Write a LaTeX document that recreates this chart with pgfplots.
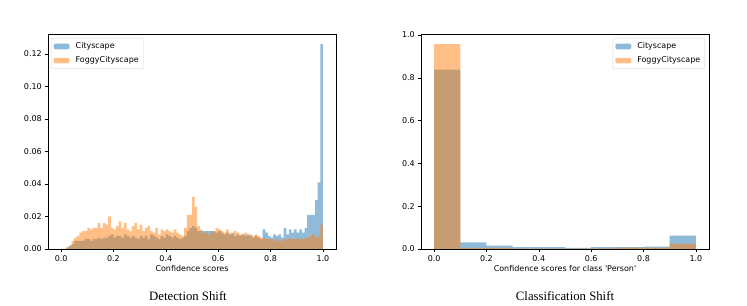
\documentclass[border=0pt]{standalone}
\usepackage{fontspec}
\setmainfont{DejaVu Sans}
\newfontfamily\capfont{Liberation Serif}
\usepackage{pgfplots}
\usepackage{pgfplotstable}
\pgfplotsset{compat=1.18}
\definecolor{cA}{HTML}{1F77B4}
\definecolor{cB}{HTML}{FF7F0E}
\pgfplotstableread{
c f
0 0
0 0
.001 .001
.002 .002
.003 .005
.005 .007
.005 .008
.005 .010
.005 .011
.006 .011
.006 .013
.005 .012
.006 .013
.006 .013
.007 .016
.006 .013
.007 .016
.007 .015
.008 .020
.009 .013
.007 .012
.008 .014
.008 .017
.007 .013
.009 .016
.008 .012
.007 .011
.008 .014
.007 .016
.006 .012
.008 .015
.007 .011
.008 .013
.006 .014
.009 .011
.008 .010
.007 .013
.006 .009
.008 .012
.007 .011
.009 .012
.008 .011
.007 .010
.008 .012
.007 .010
.006 .009
.007 .008
.008 .013
.011 .021
.013 .021
.014 .032
.013 .026
.011 .014
.011 .012
.011 .010
.011 .010
.011 .009
.011 .011
.011 .010
.010 .013
.011 .012
.010 .011
.009 .010
.010 .012
.009 .010
.010 .009
.008 .011
.009 .010
.008 .009
.009 .009
.008 .010
.009 .008
.008 .009
.007 .008
.008 .009
.007 .008
.006 .007
.012 .007
.010 .006
.008 .006
.007 .006
.009 .005
.008 .006
.009 .005
.007 .005
.013 .006
.009 .006
.012 .007
.010 .006
.012 .006
.010 .007
.012 .006
.010 .006
.013 .007
.021 .007
.021 .008
.021 .009
.030 .007
.041 .008
.126 .015
.126 .015
}\detdata
\pgfplotstableread{
x c f
0.0 0.838 0.958
0.1 0.031 0.005
0.2 0.016 0.005
0.3 0.009 0.002
0.4 0.009 0.002
0.5 0.005 0.002
0.6 0.009 0.003
0.7 0.009 0.006
0.8 0.011 0.006
0.9 0.063 0.025
1.0 0.063 0.025
}\clsdata
\pgfplotsset{
  mystyle/.style={
    scale only axis, width=288bp, height=215bp,
    xmin=-0.05, xmax=1.05, ymin=0,
    axis line style={line width=0.5bp},
    tick style={line width=0.5bp, black},
    tick align=outside, major tick length=2.8bp,
    xtick pos=bottom, ytick pos=left,
    xtick={0,0.2,0.4,0.6,0.8,1.0},
    tick label style={font=\fontsize{8}{9.6}\selectfont},
    label style={font=\fontsize{8}{9.6}\selectfont},
    /pgf/number format/assume math mode=true,
    xticklabel style={/pgf/number format/fixed, /pgf/number format/fixed zerofill, /pgf/number format/precision=1},
    xlabel style={at={(axis description cs:0.5,0)}, anchor=center, yshift=-20bp},
    legend image code/.code={\fill[##1] (0bp,-2.8bp) rectangle (16bp,2.8bp); \path (20bp,0bp);},
    legend cell align=left,
    legend style={font=\fontsize{8}{9.6}\selectfont, draw=black!15, rounded corners=2bp,
      inner xsep=2.5bp, inner ysep=2.5bp, row sep=2.6bp},
  }
}
\begin{document}
\begin{tikzpicture}
\path[use as bounding box] (0,0) rectangle (747bp,306bp);
\begin{axis}[mystyle, at={(48bp,57bp)}, anchor=south west,
  ymax=0.1323,
  ytick={0,0.02,0.04,0.06,0.08,0.10,0.12},
  yticklabel style={/pgf/number format/fixed, /pgf/number format/fixed zerofill, /pgf/number format/precision=2},
  xlabel={Confidence scores},
  legend style={at={(0,1)}, anchor=north west, xshift=3bp, yshift=-4bp},
]
\addplot[const plot, fill=cA, fill opacity=0.5, draw=none] table[x expr=\coordindex*0.01, y=c] {\detdata} \closedcycle;
\addplot[const plot, fill=cB, fill opacity=0.5, draw=none] table[x expr=\coordindex*0.01, y=f] {\detdata} \closedcycle;
\legend{Cityscape, FoggyCityscape}
\end{axis}
\begin{axis}[mystyle, at={(421bp,57bp)}, anchor=south west,
  ymax=1.005,
  ytick={0,0.2,0.4,0.6,0.8,1.0},
  yticklabel style={/pgf/number format/fixed, /pgf/number format/fixed zerofill, /pgf/number format/precision=1},
  xlabel={Confidence scores for class \textquotesingle Person\textquotesingle},
  legend style={at={(1,1)}, anchor=north east, xshift=-4bp, yshift=-4bp},
]
\addplot[const plot, fill=cA, fill opacity=0.5, draw=none] table[x=x, y=c] {\clsdata} \closedcycle;
\addplot[const plot, fill=cB, fill opacity=0.5, draw=none] table[x=x, y=f] {\clsdata} \closedcycle;
\legend{Cityscape, FoggyCityscape}
\end{axis}
\node[font=\capfont\fontsize{12.8}{14}\selectfont] at (188bp,9.5bp) {Detection Shift};
\node[font=\capfont\fontsize{12.8}{14}\selectfont] at (565bp,9.5bp) {Classification Shift};
\end{tikzpicture}
\end{document}
